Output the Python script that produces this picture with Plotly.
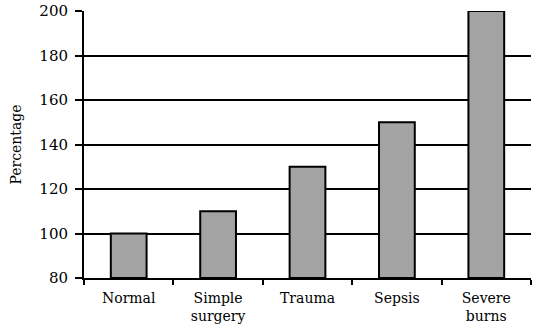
import plotly.graph_objects as go

categories = ["Normal", "Simple<br>surgery", "Trauma", "Sepsis", "Severe<br>burns"]
values = [100, 110, 130, 150, 200]
y_ticks = [80, 100, 120, 140, 160, 180, 200]
baseline = 80

font_family = "DejaVu Serif"

fig = go.Figure(
    go.Bar(
        x=categories,
        y=[v - baseline for v in values],
        base=baseline,
        width=0.4,
        marker=dict(
            color="#9a9a9a",
            line=dict(color="black", width=2),
            pattern=dict(shape=".", fgcolor="#4a4a4a", bgcolor="#b8b8b8", size=2, solidity=0.4),
        ),
    )
)

fig.update_layout(
    width=533,
    height=336,
    margin=dict(l=84, r=2, t=9, b=58),
    paper_bgcolor="white",
    plot_bgcolor="white",
    showlegend=False,
    font=dict(family=font_family, size=14, color="black"),
)
fig.update_xaxes(
    type="category",
    tickson="boundaries",
    ticks="outside",
    ticklen=5,
    tickwidth=2,
    tickcolor="black",
    showline=True,
    linecolor="black",
    linewidth=2,
    showgrid=False,
    ticklabelstandoff=6,
    tickfont=dict(family=font_family, size=14),
)
fig.update_yaxes(
    range=[80, 200],
    tickvals=y_ticks,
    ticks="outside",
    ticklen=7,
    tickwidth=2,
    tickcolor="black",
    showline=True,
    linecolor="black",
    linewidth=2,
    showgrid=True,
    gridcolor="black",
    gridwidth=2,
    zeroline=False,
    ticklabelstandoff=4,
    title=dict(text="Percentage", font=dict(family=font_family, size=14), standoff=14),
    tickfont=dict(family=font_family, size=15),
)

fig.write_html("out.html")
